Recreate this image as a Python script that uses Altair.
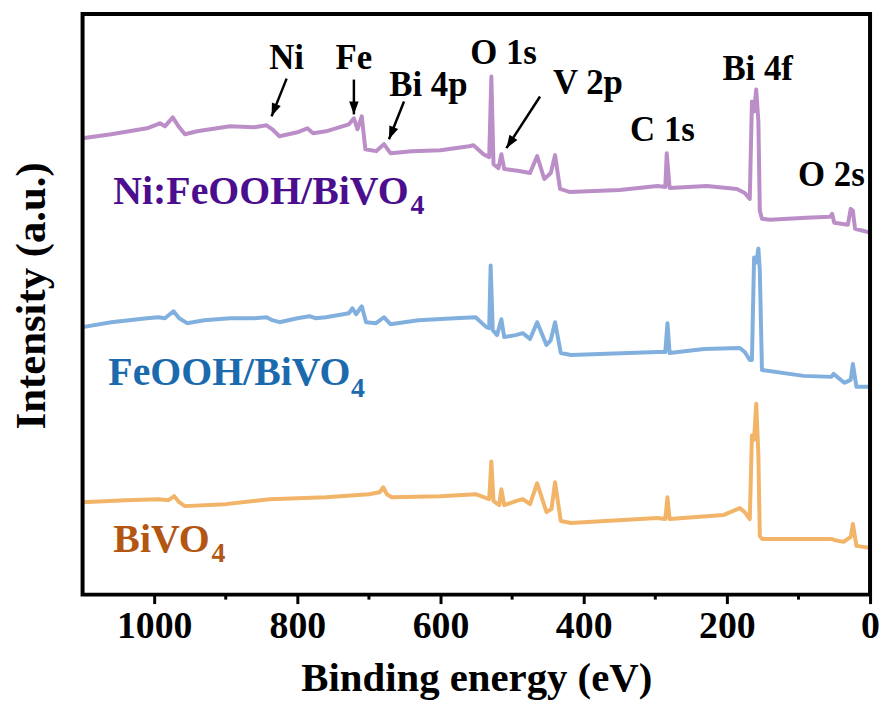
import math
import altair as alt
import pandas as pd

# ---------------- data (intensity in arbitrary units) ----------------
series_names = ["Ni:FeOOH/BiVO4", "FeOOH/BiVO4", "BiVO4"]
line_colors = ["#BB8EC8", "#82B0DE", "#F2B468"]
label_colors = ["#4B0E8E", "#1C6AAE", "#B35612"]

ni_energy = [1100, 1060, 1010, 992, 985, 974, 965, 957, 940, 894, 860, 843, 835, 825, 800, 786, 778,
             760, 728, 721, 716, 710, 705, 690, 679, 670, 640, 600, 560, 554, 540, 532, 529, 526,
             519, 515, 511, 490, 475, 465, 455, 446, 440, 433, 420, 350, 297, 286, 284, 280, 228,
             186, 175, 168, 165, 162, 159, 156, 154, 151, 140, 89, 56, 53, 50, 31, 27, 24, 21, 10, 0]
ni_intensity = [459, 463, 469, 474, 471, 480, 470, 463, 466, 471, 470, 472, 468, 461, 465, 469, 464,
                466, 473, 479, 468, 481, 448, 446, 453, 444, 446, 447, 451, 452, 443, 440, 521, 433,
                429, 443, 428, 426, 424, 441, 418, 424, 442, 408, 405, 407, 411, 410, 444, 409, 411,
                408, 404, 398, 496, 486, 508, 476, 386, 378, 377, 379, 380, 383, 374, 372, 388, 386,
                368, 366, 364]

fe_energy = [1100, 1060, 1010, 994, 985, 973, 965, 954, 930, 894, 860, 843, 835, 825, 800, 783, 775,
             760, 728, 723, 718, 710, 704, 690, 679, 670, 631, 580, 551, 536, 532, 530, 527, 521,
             515, 511, 495, 485, 475, 465, 452, 446, 440, 432, 418, 297, 286, 283, 280, 232, 182,
             175, 168, 165, 162, 159, 156, 154, 151, 93, 54, 51, 36, 27, 24, 19, 0]
fe_intensity = [269, 274, 278, 279, 278, 285, 278, 273, 276, 278, 278, 279, 276, 274, 278, 280, 278,
                279, 283, 288, 282, 290, 274, 273, 279, 272, 276, 278, 279, 269, 268, 331, 266, 261,
                277, 259, 261, 263, 257, 274, 251, 256, 274, 243, 241, 244, 244, 273, 243, 247, 248,
                244, 236, 236, 339, 334, 348, 326, 226, 220, 219, 222, 213, 216, 232, 209, 209]

bv_energy = [1100, 1040, 994, 980, 972, 965, 957, 900, 839, 760, 700, 685, 680, 675, 668, 600, 551,
             536, 532, 529, 526, 518, 515, 511, 495, 485, 475, 465, 452, 445, 440, 432, 418, 297,
             286, 283, 280, 205, 182, 175, 168, 165, 162, 159, 156, 154, 151, 93, 54, 50, 37, 27,
             24, 19, 0]
bv_intensity = [93, 95, 96, 95, 99, 93, 89, 91, 96, 98, 101, 103, 108, 101, 98, 99, 101,
                97, 96, 134, 94, 90, 106, 90, 94, 96, 91, 112, 83, 86, 113, 74, 72, 77,
                76, 98, 76, 80, 87, 83, 76, 160, 156, 192, 140, 59, 56, 56, 56, 55, 53, 58,
                71, 49, 47]

# peak annotations
peak_labels = ["Ni", "Fe", "Bi 4p", "O 1s", "V 2p", "C 1s", "Bi 4f", "O 2s"]
peak_label_energy = [815, 721, 617, 512, 394, 290, 157, 54]
peak_label_intensity = [529, 529, 501, 534, 503, 456, 518, 411]

# arrows (start -> tip)
arrow_e1 = [815, 721, 651, 461]
arrow_i1 = [519, 518, 496, 501]
arrow_e2 = [836, 721, 672, 508]
arrow_i2 = [481, 483, 458, 449]

# sample labels (main text and subscript)
sample_text = ["Ni:FeOOH/BiVO", "FeOOH/BiVO", "BiVO"]
sample_energy = [1057, 1064, 1057]
sample_intensity = [393, 211, 43]
sub_text = ["4", "4", "4"]
sub_energy = [642, 725, 920]
sub_intensity = [383, 199, 33]

major_ticks = [1000, 800, 600, 400, 200, 0]
minor_ticks = [900, 700, 500, 300, 100]

# ---------------- build tables ----------------
rows = []
for name, es, ys_ in zip(series_names, [ni_energy, fe_energy, bv_energy],
                         [ni_intensity, fe_intensity, bv_intensity]):
    for i, (e, y) in enumerate(zip(es, ys_)):
        rows.append(dict(series=name, E=e, I=y, idx=i))
df = pd.DataFrame(rows)

W, H = 792, 584
XMAX, YMAX = 1100, 584
px_per_e = W / XMAX
px_per_i = H / YMAX

adf = pd.DataFrame(dict(e1=arrow_e1, i1=arrow_i1, e2=arrow_e2, i2=arrow_i2))
dxp = (adf.e1 - adf.e2) * px_per_e
dyp = (adf.i1 - adf.i2) * px_per_i
adf["ang"] = [math.degrees(math.atan2(-a, b)) % 360 for a, b in zip(dxp, dyp)]

pdf = pd.DataFrame(dict(t=peak_labels, E=peak_label_energy, I=peak_label_intensity))
sdf = pd.DataFrame(dict(t=sample_text, E=sample_energy, I=sample_intensity, s=series_names))
subdf = pd.DataFrame(dict(t=sub_text, E=sub_energy, I=sub_intensity, s=series_names))
mdf = pd.DataFrame(dict(E=minor_ticks))
frame_df = pd.DataFrame(dict(k=[0]))

FONT = "Liberation Serif"
xs = alt.Scale(domain=[0, XMAX], reverse=True, nice=False, zero=False)
ys = alt.Scale(domain=[0, YMAX], nice=False, zero=False)
col = alt.Scale(domain=series_names, range=label_colors)

lines = alt.Chart(df).mark_line(strokeWidth=4, strokeJoin="round").encode(
    x=alt.X("E:Q", scale=xs, axis=alt.Axis(
        values=major_ticks, format="d", title="Binding energy (eV)", grid=False, domain=False,
        tickSize=9, tickWidth=3, tickColor="black", labelColor="black", titleColor="black",
        labelFontSize=38, titleFontSize=41, labelFont=FONT, titleFont=FONT,
        labelFontWeight="bold", titleFontWeight="bold", labelPadding=4,
        titleY=96, titleBaseline="alphabetic", labelFlush=False)),
    y=alt.Y("I:Q", scale=ys, axis=alt.Axis(
        title="Intensity (a.u.)", ticks=False, labels=False, domain=False, grid=False,
        titleFontSize=43, titleFont=FONT, titleFontWeight="bold", titleColor="black",
        titleX=-38, titleY=283, titleBaseline="alphabetic", titleAngle=270)),
    color=alt.Color("series:N", scale=alt.Scale(domain=series_names, range=line_colors), legend=None),
    order=alt.Order("idx:Q"),
)

frame = alt.Chart(frame_df).mark_rect(filled=False, stroke="black", strokeWidth=4).encode(
    x=alt.value(0), x2=alt.value(W), y=alt.value(0), y2=alt.value(H))

minor = alt.Chart(mdf).mark_rule(color="black", strokeWidth=3).encode(
    x=alt.X("E:Q", scale=xs), y=alt.value(H), y2=alt.value(H + 5))

peak_text = alt.Chart(pdf).mark_text(font=FONT, fontWeight="bold", fontSize=35, color="black",
                                     baseline="alphabetic", align="center").encode(
    x=alt.X("E:Q", scale=xs), y=alt.Y("I:Q", scale=ys), text="t:N")

arrow_lines = alt.Chart(adf).mark_rule(color="black", strokeWidth=2.5).encode(
    x=alt.X("e1:Q", scale=xs), y=alt.Y("i1:Q", scale=ys), x2="e2:Q", y2="i2:Q")

arrow_heads = alt.Chart(adf).mark_point(
    shape="M0,0L-0.55,-1.5L0.55,-1.5Z", filled=True, size=300, color="black", opacity=1).encode(
    x=alt.X("e2:Q", scale=xs), y=alt.Y("i2:Q", scale=ys), angle=alt.Angle("ang:Q", scale=None))

sample = alt.Chart(sdf).mark_text(font=FONT, fontWeight="bold", fontSize=40,
                                  baseline="alphabetic", align="left").encode(
    x=alt.X("E:Q", scale=xs), y=alt.Y("I:Q", scale=ys), text="t:N",
    color=alt.Color("s:N", scale=col, legend=None))

subs = alt.Chart(subdf).mark_text(font=FONT, fontWeight="bold", fontSize=28,
                                  baseline="alphabetic", align="left").encode(
    x=alt.X("E:Q", scale=xs), y=alt.Y("I:Q", scale=ys), text="t:N",
    color=alt.Color("s:N", scale=col, legend=None))

chart = alt.layer(lines, frame, minor, arrow_lines, arrow_heads, peak_text, sample, subs).resolve_scale(
    color="independent").properties(
    width=W, height=H,
    autosize=alt.AutoSizeParams(type="none"),
    padding={"left": 75, "top": 4, "right": 10, "bottom": 106},
).configure_view(stroke=None)

chart.save("out.html", embed_options={"renderer": "svg", "actions": False})
